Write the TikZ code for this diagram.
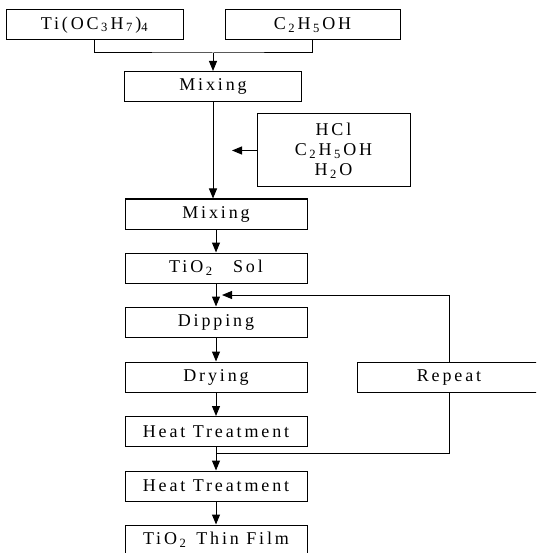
\documentclass[tikz,border=0pt]{standalone}
\usepackage{fontspec}
\setmainfont{Liberation Serif}[LetterSpace=16]
\usetikzlibrary{arrows.meta}

\newcommand\sbs[1]{\kern2.5pt\textsubscript{#1}\kern2.5pt\relax}

\tikzset{
  stepbox/.style={draw, minimum height=30pt, inner sep=0pt},
  flow/.style={-{Triangle[length=10pt,width=8pt]}}
}

\begin{document}
\begin{tikzpicture}[x=1pt, y=-1pt, line width=1pt,
    every node/.append style={font=\fontsize{18}{20}\selectfont}]
  \clip (0,0) rectangle (536,553);

  % starting materials
  \node[stepbox, minimum width=177pt] (tip) at (94.5,25) {Ti(OC\sbs{3}H\sbs{7})\textsubscript{4}};
  \node[stepbox, minimum width=175pt] (eth) at (312.5,25) {C\sbs{2}H\sbs{5}OH};
  \node[stepbox, minimum width=177pt] (mix1) at (213,86.5) {Mixing};
  \node[stepbox, minimum width=153pt, minimum height=73pt, align=center] (acid) at (333.5,150.5)
    {HCl\\C\sbs{2}H\sbs{5}OH\\H\sbs{2}O};

  % main column
  \foreach \name/\y/\txt in {mix2/214/Mixing, sol/268/{TiO\sbs{2}\quad Sol},
      dip/322/Dipping, dry/377/Drying, heat1/431.5/Heat Treatment,
      heat2/486/Heat Treatment, film/540/{TiO\sbs{2} Thin Film}} {
    \node[stepbox, minimum width=182pt] (\name) at (216,\y) {\txt};
  }

  \node[stepbox, minimum width=184pt] (rep) at (449,377.5) {Repeat};

  % connectors
  \coordinate (join) at (213,53);
  \draw (tip.south) |- (join) -| (eth.south);
  \draw[flow] (join) -- (mix1.north);
  \draw[flow] (mix1.south) -- (mix1.south |- mix2.north);
  \coordinate (acidin) at (232,150.5);
  \draw[flow] (acid.west) -- (acidin);

  \foreach \a/\b in {mix2/sol, sol/dip, dip/dry, dry/heat1, heat1/heat2, heat2/film} {
    \draw[flow] (\a) -- (\b);
  }

  % repeat loop
  \coordinate (back) at (222,295);
  \draw[flow] (rep.north) |- (back);
  \coordinate (merge) at (216,453);
  \draw (rep.south) |- (merge);
\end{tikzpicture}
\end{document}
